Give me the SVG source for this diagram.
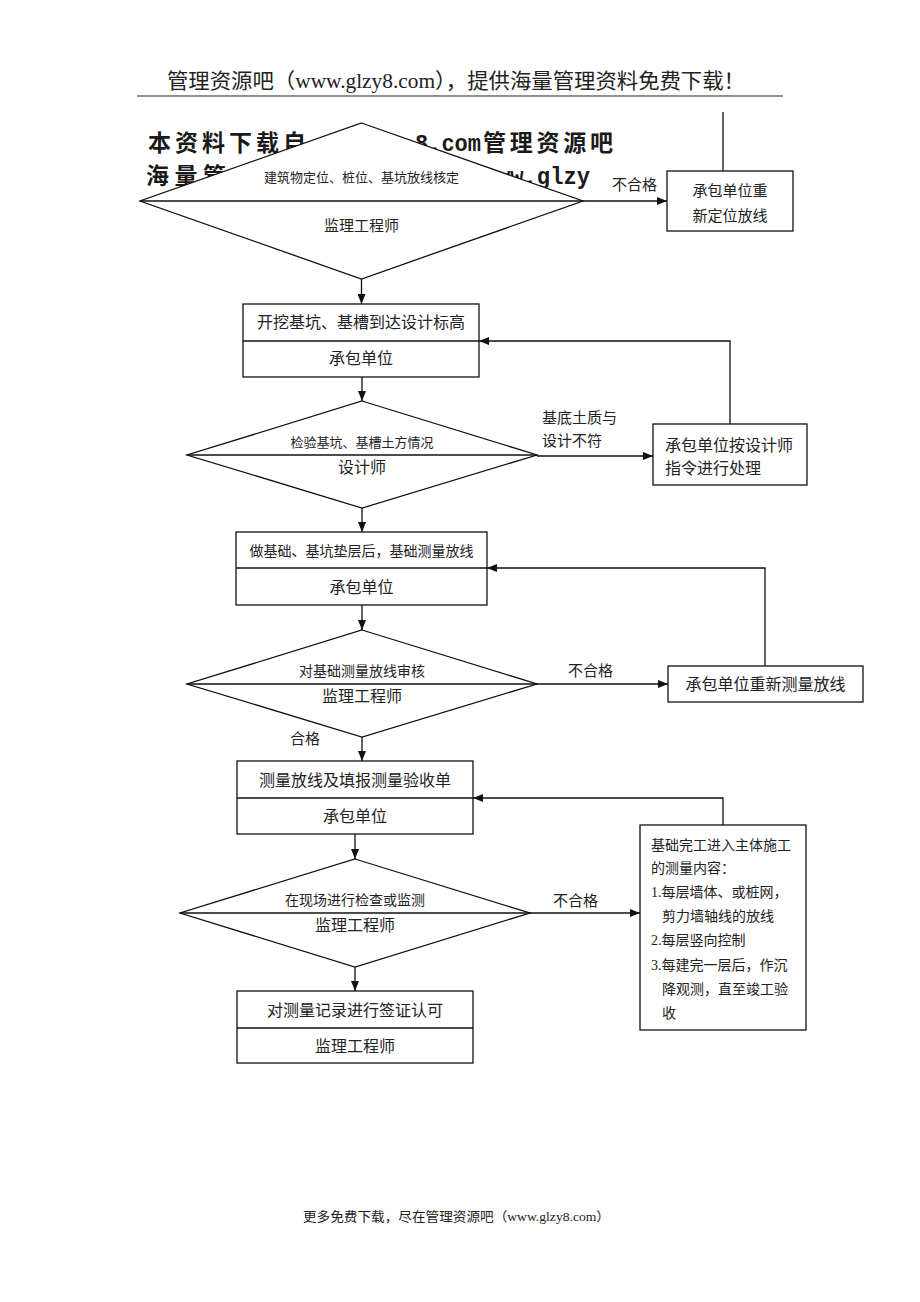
<svg xmlns="http://www.w3.org/2000/svg" width="920" height="1302" viewBox="0 0 920 1302">
<style>
.bg{fill:#ffffff}
.shape{fill:#ffffff;stroke:#111;stroke-width:1.3}
.ln{fill:none;stroke:#111;stroke-width:1.3}
.t{font-family:"Liberation Serif","Noto Sans CJK SC",serif;fill:#222}
.c{text-anchor:middle}
.s13{font-size:13px}
.s14{font-size:14px}
.s15{font-size:15px}
.s16{font-size:16px}
.wm{font-family:"Liberation Mono","Noto Sans CJK SC",monospace;font-weight:bold;fill:#1a1a1a}
</style>
<defs>
<marker id="ah" markerUnits="userSpaceOnUse" markerWidth="10" markerHeight="8" refX="10" refY="4" orient="auto">
<path d="M0,0 L10,4 L0,8 z" fill="#111"/>
</marker>
</defs>
<rect class="bg" x="0" y="0" width="920" height="1302"/>

<g id="header">
<text class="t" x="167" y="88" font-size="21" textLength="578" lengthAdjust="spacingAndGlyphs">管理资源吧（www.glzy8.com），提供海量管理资料免费下载！</text>
<line x1="137" y1="96" x2="783" y2="96" stroke="#222" stroke-width="1.2"/>
</g>

<g id="watermark">
<text class="wm" x="148" y="151" font-size="23" textLength="158" lengthAdjust="spacing">本资料下载自</text>
<text class="wm" y="151" font-size="24"><tspan x="415" textLength="66" lengthAdjust="spacingAndGlyphs">8.com</tspan><tspan x="483" font-size="23" textLength="130" lengthAdjust="spacing">管理资源吧</tspan></text>
<text class="wm" x="146" y="184" font-size="23" textLength="80" lengthAdjust="spacing">海量管</text>
<text class="wm" x="497" y="184" font-size="24" textLength="93" lengthAdjust="spacingAndGlyphs">ww.glzy</text>
</g>

<g id="n1">
<polygon class="shape" points="361.5,123 583,201 361.5,279 140,201"/>
<line class="ln" x1="140" y1="201" x2="583" y2="201"/>
<text class="t c s13" x="361.5" y="182">建筑物定位、桩位、基坑放线核定</text>
<text class="t c s15" x="361.5" y="231">监理工程师</text>
</g>

<g id="n1b">
<rect class="shape" x="667" y="171" width="126" height="60"/>
<text class="t c s15" x="730" y="196">承包单位重</text>
<text class="t c s15" x="730" y="221">新定位放线</text>
</g>

<g id="n2">
<rect class="shape" x="243" y="304" width="236" height="73"/>
<line class="ln" x1="243" y1="341" x2="479" y2="341"/>
<text class="t c s16" x="361" y="328">开挖基坑、基槽到达设计标高</text>
<text class="t c s16" x="361" y="364">承包单位</text>
</g>

<g id="n3">
<polygon class="shape" points="362,401 537,455 362,508 187,455"/>
<line class="ln" x1="187" y1="455" x2="537" y2="455"/>
<text class="t c s13" x="362" y="447">检验基坑、基槽土方情况</text>
<text class="t c s16" x="362" y="473">设计师</text>
</g>

<g id="n3b">
<rect class="shape" x="653" y="424" width="154" height="61"/>
<text class="t s16" x="665" y="451">承包单位按设计师</text>
<text class="t s16" x="665" y="474">指令进行处理</text>
</g>

<g id="n4">
<rect class="shape" x="236" y="532" width="251" height="73"/>
<line class="ln" x1="236" y1="568" x2="487" y2="568"/>
<text class="t c s14" x="361.5" y="556">做基础、基坑垫层后，基础测量放线</text>
<text class="t c s16" x="361.5" y="593">承包单位</text>
</g>

<g id="n5">
<polygon class="shape" points="362,630 537,684 362,737 187,684"/>
<line class="ln" x1="187" y1="684" x2="537" y2="684"/>
<text class="t c s14" x="362" y="676">对基础测量放线审核</text>
<text class="t c s16" x="362" y="702">监理工程师</text>
</g>

<g id="n5b">
<rect class="shape" x="668" y="666" width="195" height="36"/>
<text class="t c s16" x="765.5" y="690">承包单位重新测量放线</text>
</g>

<g id="n6">
<rect class="shape" x="237" y="761" width="236" height="73"/>
<line class="ln" x1="237" y1="798" x2="473" y2="798"/>
<text class="t c s16" x="355" y="786">测量放线及填报测量验收单</text>
<text class="t c s16" x="355" y="822">承包单位</text>
</g>

<g id="n7">
<polygon class="shape" points="355,859 530,913 355,967 180,913"/>
<line class="ln" x1="180" y1="913" x2="530" y2="913"/>
<text class="t c s14" x="355" y="905">在现场进行检查或监测</text>
<text class="t c s16" x="355" y="931">监理工程师</text>
</g>

<g id="n7b">
<rect class="shape" x="640" y="825" width="166" height="205"/>
<text class="t s14" x="651" y="850">基础完工进入主体施工</text>
<text class="t s14" x="651" y="873">的测量内容：</text>
<text class="t s14" x="651" y="897">1.每层墙体、或桩网，</text>
<text class="t s14" x="662" y="921">剪力墙轴线的放线</text>
<text class="t s14" x="651" y="945">2.每层竖向控制</text>
<text class="t s14" x="651" y="970">3.每建完一层后，作沉</text>
<text class="t s14" x="662" y="994">降观测，直至竣工验</text>
<text class="t s14" x="662" y="1018">收</text>
</g>

<g id="n8">
<rect class="shape" x="237" y="991" width="236" height="72"/>
<line class="ln" x1="237" y1="1028" x2="473" y2="1028"/>
<text class="t c s16" x="355" y="1016">对测量记录进行签证认可</text>
<text class="t c s16" x="355" y="1052">监理工程师</text>
</g>

<g id="connectors">
<line class="ln" x1="583" y1="201" x2="667" y2="201" marker-end="url(#ah)"/>
<text class="t s15" x="612" y="190">不合格</text>
<line class="ln" x1="723" y1="112" x2="723" y2="171"/>
<line class="ln" x1="361.5" y1="279" x2="361.5" y2="304" marker-end="url(#ah)"/>
<line class="ln" x1="362" y1="377" x2="362" y2="401" marker-end="url(#ah)"/>
<line class="ln" x1="537" y1="456" x2="653" y2="456" marker-end="url(#ah)"/>
<text class="t s15" x="542" y="423">基底土质与</text>
<text class="t s15" x="542" y="446">设计不符</text>
<polyline class="ln" points="730,424 730,341 479,341" marker-end="url(#ah)"/>
<line class="ln" x1="362" y1="508" x2="362" y2="532" marker-end="url(#ah)"/>
<line class="ln" x1="362" y1="605" x2="362" y2="630" marker-end="url(#ah)"/>
<line class="ln" x1="537" y1="684" x2="668" y2="684" marker-end="url(#ah)"/>
<text class="t s15" x="568" y="676">不合格</text>
<polyline class="ln" points="765,666 765,568 487,568" marker-end="url(#ah)"/>
<line class="ln" x1="362" y1="737" x2="362" y2="761" marker-end="url(#ah)"/>
<text class="t s15" x="290" y="744">合格</text>
<line class="ln" x1="355" y1="834" x2="355" y2="859" marker-end="url(#ah)"/>
<line class="ln" x1="530" y1="913" x2="640" y2="913" marker-end="url(#ah)"/>
<text class="t s15" x="553" y="906">不合格</text>
<polyline class="ln" points="723,825 723,798 473,798" marker-end="url(#ah)"/>
<line class="ln" x1="355" y1="967" x2="355" y2="991" marker-end="url(#ah)"/>
</g>

<g id="footer">
<text class="t s13" x="303" y="1221" textLength="307" lengthAdjust="spacingAndGlyphs">更多免费下载，尽在管理资源吧（www.glzy8.com）</text>
</g>
</svg>
